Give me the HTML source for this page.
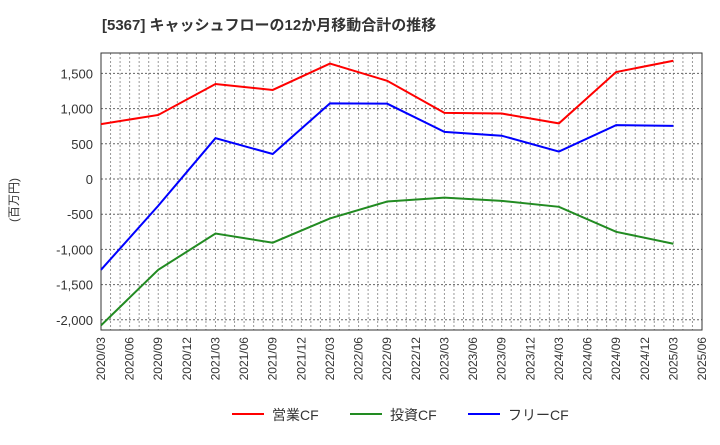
<!DOCTYPE html>
<html><head><meta charset="utf-8"><style>
body{margin:0;background:#fff;font-family:"Liberation Sans","Noto Sans CJK JP",sans-serif;}
</style></head><body>
<svg width="720" height="440" xmlns="http://www.w3.org/2000/svg" font-family="Liberation Sans, Noto Sans CJK JP, sans-serif">
<text x="102" y="30" font-size="15" font-weight="bold" fill="#333">[5367]  キャッシュフローの12か月移動合計の推移</text>
<g id="grid"></g>
<g id="axes"></g>
<g id="series"></g>
<text transform="translate(18,200) rotate(-90)" font-size="12" fill="#333" text-anchor="middle">(百万円)</text>
<g>
<line x1="232" y1="414" x2="264" y2="414" stroke="#f00" stroke-width="2"/>
<text x="272" y="420" font-size="14" fill="#333">営業CF</text>
<line x1="350" y1="414" x2="382" y2="414" stroke="#228b22" stroke-width="2"/>
<text x="390" y="420" font-size="14" fill="#333">投資CF</text>
<line x1="468" y1="414" x2="500" y2="414" stroke="#00f" stroke-width="2"/>
<text x="508" y="420" font-size="14" fill="#333">フリーCF</text>
</g>
</svg>
<script>
const xLabels=["2020/03","2020/06","2020/09","2020/12","2021/03","2021/06","2021/09","2021/12","2022/03","2022/06","2022/09","2022/12","2023/03","2023/06","2023/09","2023/12","2024/03","2024/06","2024/09","2024/12","2025/03","2025/06"];
const yTicks=[1500,1000,500,0,-500,-1000,-1500,-2000];
const pointQuarters=[0,2,4,6,8,10,12,14,16,18,20];
const operatingCF=[780,910,1350,1265,1640,1395,940,930,790,1520,1680];
const investingCF=[-2080,-1290,-775,-905,-560,-320,-265,-310,-395,-750,-920];
const freeCF=[-1290,-380,580,355,1075,1070,670,615,390,765,755];
const L=101,R=702,T=53,B=330,yMax=1790,yMin=-2145;
const NS="http://www.w3.org/2000/svg";
const xS=q=>L+(R-L)*q/(xLabels.length-1);
const yS=v=>T+(yMax-v)/(yMax-yMin)*(B-T);
function mk(t,a,p){const e=document.createElementNS(NS,t);for(const k in a)e.setAttribute(k,a[k]);p.appendChild(e);return e;}
const g=document.getElementById('grid'),ax=document.getElementById('axes'),s=document.getElementById('series');
mk('rect',{x:L,y:T,width:R-L,height:B-T,fill:'#fff'},g);
for(let m=1;m<(xLabels.length-1)*3;m++){const x=L+(R-L)*m/((xLabels.length-1)*3);
const ln=mk('line',{x1:x,y1:T,x2:x,y2:B,stroke:'#999','stroke-width':1,'stroke-dasharray':'2,2'},g);

}
yTicks.forEach(v=>{const y=yS(v);
const ln=mk('line',{x1:L,y1:y,x2:R,y2:y,stroke:'#666','stroke-width':1,'stroke-dasharray':'2,2'},g);


const t=mk('text',{x:L-8,y:y+5,'font-size':13,fill:'#333','text-anchor':'end'},ax);t.textContent=v.toLocaleString('en-US');

});
xLabels.forEach((l,i)=>{const x=xS(i);
const t=mk('text',{transform:`translate(${x+4},337) rotate(-90)`,'font-size':12,fill:'#333','text-anchor':'end'},ax);t.textContent=l;

});
const fr=mk('rect',{x:L,y:T,width:R-L,height:B-T,fill:'none',stroke:'#333','stroke-width':1},ax);


[[operatingCF,'#f00','operating-cf-line'],[investingCF,'#228b22','investing-cf-line'],[freeCF,'#00f','free-cf-line']].forEach(([d,c,n])=>{
const p=mk('polyline',{points:d.map((v,i)=>xS(pointQuarters[i])+','+yS(v)).join(' '),fill:'none',stroke:c,'stroke-width':2},s);

});
</script>
</body></html>
